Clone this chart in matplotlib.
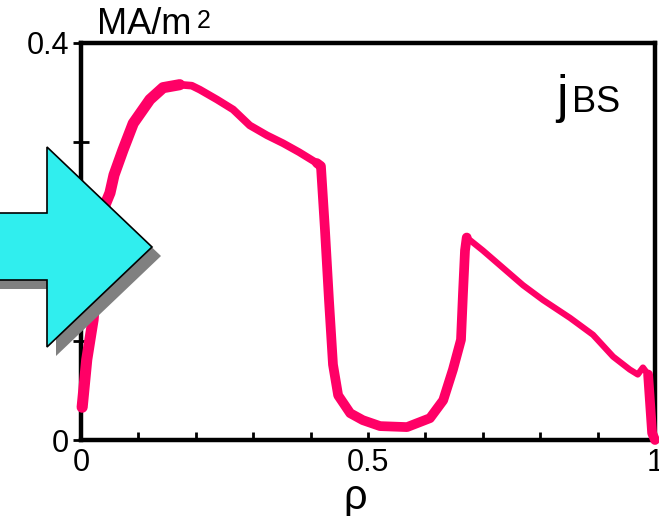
import matplotlib
matplotlib.use("Agg")
import matplotlib.pyplot as plt
from matplotlib.patches import Polygon

plt.rcParams['font.family'] = ['Liberation Sans', 'DejaVu Sans']

# perfil de corrente de bootstrap j_BS(rho)
rho = [0.002, 0.010, 0.021, 0.028, 0.042, 0.0505, 0.0575, 0.073, 0.091, 0.120,
       0.143, 0.172, 0.193, 0.207, 0.237, 0.265, 0.294, 0.324, 0.352, 0.380,
       0.411, 0.418, 0.425, 0.432, 0.439, 0.448, 0.469, 0.491, 0.521, 0.568,
       0.608, 0.631, 0.648, 0.662, 0.6655, 0.669, 0.672, 0.700, 0.770, 0.805,
       0.852, 0.892, 0.927, 0.956, 0.970, 0.979, 0.988, 0.995, 1.0]
j_bs = [0.033, 0.081, 0.121, 0.171, 0.237, 0.249, 0.267, 0.292, 0.319, 0.343,
        0.355, 0.358, 0.357, 0.353, 0.343, 0.333, 0.317, 0.307, 0.299, 0.290,
        0.279, 0.276, 0.212, 0.141, 0.076, 0.045, 0.027, 0.020, 0.014, 0.013,
        0.022, 0.040, 0.071, 0.101, 0.148, 0.191, 0.204, 0.191, 0.156, 0.141,
        0.123, 0.106, 0.084, 0.071, 0.066, 0.073, 0.066, 0.007, 0.0]

# trechos do traço com espessuras diferentes (indices inicio, fim, largura)
trechos = [(0, 12, 8.0), (11, 21, 5.5), (20, 37, 7.0), (36, 47, 4.5), (46, 49, 7.0)]

W, H = 659, 516
fig = plt.figure(figsize=(W / 100, H / 100), dpi=100)
ax = fig.add_axes([81 / W, 1 - 440 / H, 574 / W, 397 / H])

for i0, i1, lw in trechos:
    ax.plot(rho[i0:i1], j_bs[i0:i1], color='#FF0066', linewidth=lw,
            solid_capstyle='round', solid_joinstyle='round', clip_on=False, zorder=3)

ax.set_xlim(0, 1)
ax.set_ylim(0, 0.4)
for s in ax.spines.values():
    s.set_linewidth(3.2)

ax.set_xticks([0, 0.5, 1])
ax.set_xticklabels(['0', '0.5', '1'])
ax.set_xticks([0.1, 0.2, 0.3, 0.4, 0.6, 0.7, 0.8, 0.9], minor=True)
ax.set_yticks([0, 0.4])
ax.set_yticklabels(['0', '0.4'])
ax.set_yticks([0.1, 0.2, 0.3], minor=True)
ax.tick_params(axis='x', which='both', direction='in', length=6, width=2,
               labelsize=22, pad=6)
ax.tick_params(axis='y', which='both', direction='inout', length=11, width=2,
               labelsize=22, pad=3)

# unidade e rotulos
fig.text(97 / W, 1 - 34 / H, 'MA/m', fontsize=26, ha='left', va='baseline')
fig.text(197 / W, 1 - 28 / H, '2', fontsize=18, ha='left', va='baseline')
fig.text(556 / W, 1 - 112 / H, 'j', fontsize=37, ha='left', va='baseline')
fig.text(572 / W, 1 - 112 / H, 'BS', fontsize=26, ha='left', va='baseline')
fig.text(355 / W, 1 - 509 / H, 'ρ', fontsize=30, ha='center', va='baseline')

# seta ciano com sombra
seta = [(-10, 213), (47, 213), (47, 147), (152, 247), (47, 347), (47, 280), (-10, 280)]
dx, dy = 9, 9
sombra = [((x + dx) / W, 1 - (y + dy) / H) for x, y in seta]
frente = [(x / W, 1 - y / H) for x, y in seta]
fig.add_artist(Polygon(sombra, closed=True, transform=fig.transFigure,
                       facecolor='#808080', edgecolor='none', zorder=5))
fig.add_artist(Polygon(frente, closed=True, transform=fig.transFigure,
                       facecolor='#30EEEE', edgecolor='black', linewidth=1.2, zorder=6))

fig.savefig('out.png', dpi=100)
